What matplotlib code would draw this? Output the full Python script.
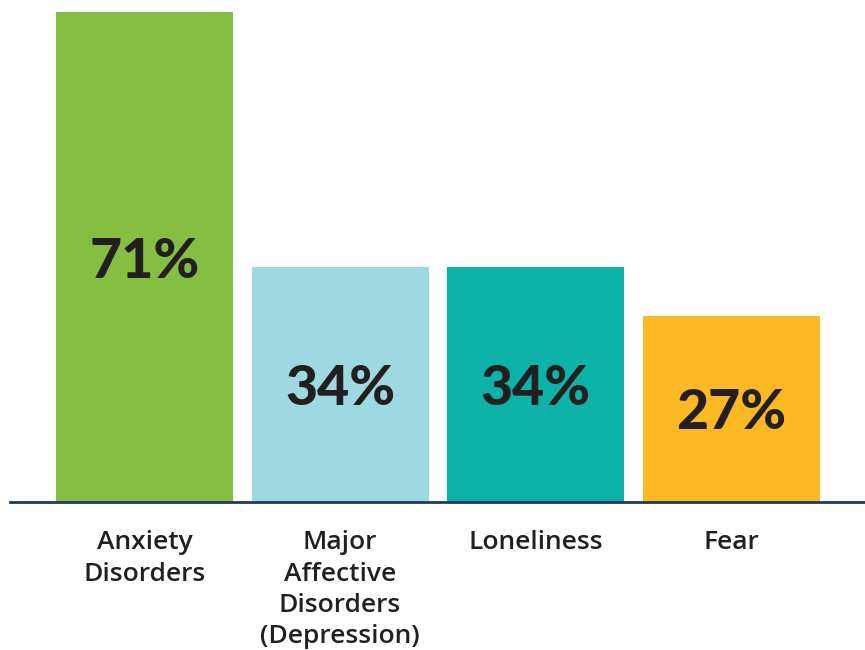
import matplotlib.pyplot as plt

categories = [
    "Anxiety\nDisorders",
    "Major\nAffective\nDisorders\n(Depression)",
    "Loneliness",
    "Fear",
]
values = [71, 34, 34, 27]
colors = ["#84bf41", "#9ed8e1", "#0db2a9", "#fcb923"]

fig = plt.figure(figsize=(8.65, 6.5), dpi=100)
ax = fig.add_axes([10 / 865, 1 - 502 / 650, 855 / 865, 502 / 650])

x = range(len(values))
ax.bar(x, values, width=0.905, color=colors)

ax.set_xlim(-0.688, 3.685)
ax.set_ylim(0, 71 * 502 / 490)

# value labels inside bars
for i, v in enumerate(values):
    ax.text(
        i,
        v / 2,
        f"{v}%",
        ha="center",
        va="center_baseline",
        fontsize=40,
        fontfamily="Lato",
        fontweight="black",
        color="#231f20",
    )

# category labels below baseline
for i, c in enumerate(categories):
    ax.text(
        i,
        -0.056,
        c,
        transform=ax.get_xaxis_transform(),
        ha="center",
        va="top",
        fontsize=19,
        fontfamily="Open Sans",
        fontweight="semibold",
        color="#231f20",
        linespacing=1.34,
    )

for side in ["top", "right", "left"]:
    ax.spines[side].set_visible(False)
ax.spines["bottom"].set_color("#1f3a5c")
ax.spines["bottom"].set_linewidth(2)
ax.set_xticks([])
ax.set_yticks([])

fig.savefig("out.png", dpi=100)
